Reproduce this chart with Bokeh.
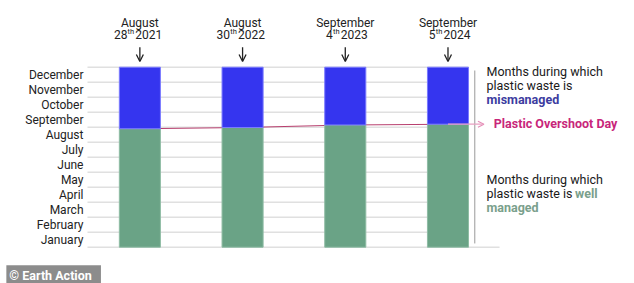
from bokeh.plotting import figure
from bokeh.models import Range1d, ColumnDataSource, Arrow, OpenHead
from bokeh.core.properties import value
from bokeh.embed import file_html
from bokeh.resources import INLINE

# ---- data ----
years = ["2021", "2022", "2023", "2024"]
date_months = ["August", "August", "September", "September"]
date_days = ["28", "30", "4", "5"]
overshoot = [7.90, 7.98, 8.15, 8.20]   # months of the year well managed
months = ["January", "February", "March", "April", "May", "June", "July",
          "August", "September", "October", "November", "December"]

BLUE = "#3535ef"
GREEN = "#6aa386"
PINK = "#c8267a"
FONT = "Roboto"

xs = list(range(len(years)))
W, H = 634, 283
p = figure(width=W, height=H, output_backend="svg", toolbar_location=None,
           x_range=Range1d(-1.357, 4.816), y_range=Range1d(-2.42, 16.447),
           min_border=0, x_axis_type=None, y_axis_type=None)
p.outline_line_color = None
p.grid.visible = False
p.background_fill_color = "white"
p.border_fill_color = "white"

# gridlines (month boundaries)
gy = list(range(0, 13))
gx1 = [3.502 if v == 0 else 3.2 for v in gy]
p.segment(x0=[-0.51] * len(gy), x1=gx1, y0=gy, y1=gy, line_color="#e0e0e0", line_width=1.5)

# month labels
p.text(x=[-0.549] * 12, y=[i + 0.5 for i in range(12)], text=months,
       text_align="right", text_baseline="middle", text_font=value(FONT),
       text_font_size="12px", text_color="#222222")

# overshoot line
p.line(x=xs, y=overshoot, line_color="#b8406f", line_width=1.1)
p.add_layout(Arrow(end=OpenHead(size=6, line_color="#e58fb8", line_width=1.2),
                   x_start=xs[-1], y_start=overshoot[-1], x_end=3.35, y_end=overshoot[-1],
                   line_color="#e8a0c2", line_width=1.2))

src = ColumnDataSource(dict(x=xs, top=overshoot, m=date_months, d=date_days, yr=years,
                            a0=[13.33] * 4, a1=[12.38] * 4))
p.vbar(x="x", width=0.4, bottom=0, top="top", source=src, fill_color=GREEN,
       line_color="#8fbca4", line_width=1)
p.vbar(x="x", width=0.4, bottom="top", top=12, source=src, fill_color=BLUE,
       line_color="#7a7aff", line_width=1)

# date annotations above bars
p.text(x="x", y=14.93, text="m", source=src, text_align="center", text_baseline="middle",
       text_font=value(FONT), text_font_size="12px", text_color="#222222")
p.text(x="x", y=14.2, text="d", source=src, text_align="right", text_baseline="middle",
       x_offset=-12.5, text_font=value(FONT), text_font_size="12px", text_color="#222222")
p.text(x="x", y=14.2, text=value("th"), source=src, text_align="left", text_baseline="middle",
       x_offset=-12.3, y_offset=-3, text_font=value(FONT), text_font_size="7.5px",
       text_color="#222222")
p.text(x="x", y=14.2, text="yr", source=src, text_align="left", text_baseline="middle",
       x_offset=-4.5, text_font=value(FONT), text_font_size="12px", text_color="#222222")
p.add_layout(Arrow(end=OpenHead(size=7, line_color="#222222", line_width=1.3),
                   source=src, x_start="x", y_start="a0", x_end="x", y_end="a1",
                   line_color="#222222", line_width=1.3))

# bracket line
p.segment(x0=[3.261], x1=[3.261], y0=[0.25], y1=[11.78], line_color="#9a9a9a", line_width=1)

# right-hand labels
tx = 3.375
p.text(x=[tx, tx], y=[11.72, 10.78], text=["Months during which", "plastic waste is"],
       text_baseline="middle", text_font=value(FONT), text_font_size="12.5px",
       text_color="#1a1a1a")
p.text(x=[tx], y=[9.85], text=["mismanaged"], text_baseline="middle", text_font=value(FONT),
       text_font_size="12.5px", text_font_style="bold", text_color="#3c3ca0")
p.text(x=[3.445], y=[8.28], text=["Plastic Overshoot Day"], text_baseline="middle",
       text_font=value(FONT), text_font_size="12.5px", text_font_style="bold", text_color=PINK)
p.text(x=[tx, tx], y=[4.52, 3.6], text=["Months during which", "plastic waste is"],
       text_baseline="middle", text_font=value(FONT), text_font_size="12.5px",
       text_color="#1a1a1a")
p.text(x=[4.237, tx], y=[3.6, 2.67], text=["well", "managed"], text_baseline="middle",
       text_font=value(FONT), text_font_size="12.5px", text_font_style="bold",
       text_color="#7aa08c")

# credit
p.text(x=[-1.30], y=[-1.9], text=["\u00a9 Earth Action  "], text_baseline="middle",
       text_font=value(FONT), text_font_size="12.5px", text_font_style="bold",
       text_color="white", background_fill_color="#8c8c8c", padding=3)

open("out.html", "w").write(file_html(p, INLINE))
